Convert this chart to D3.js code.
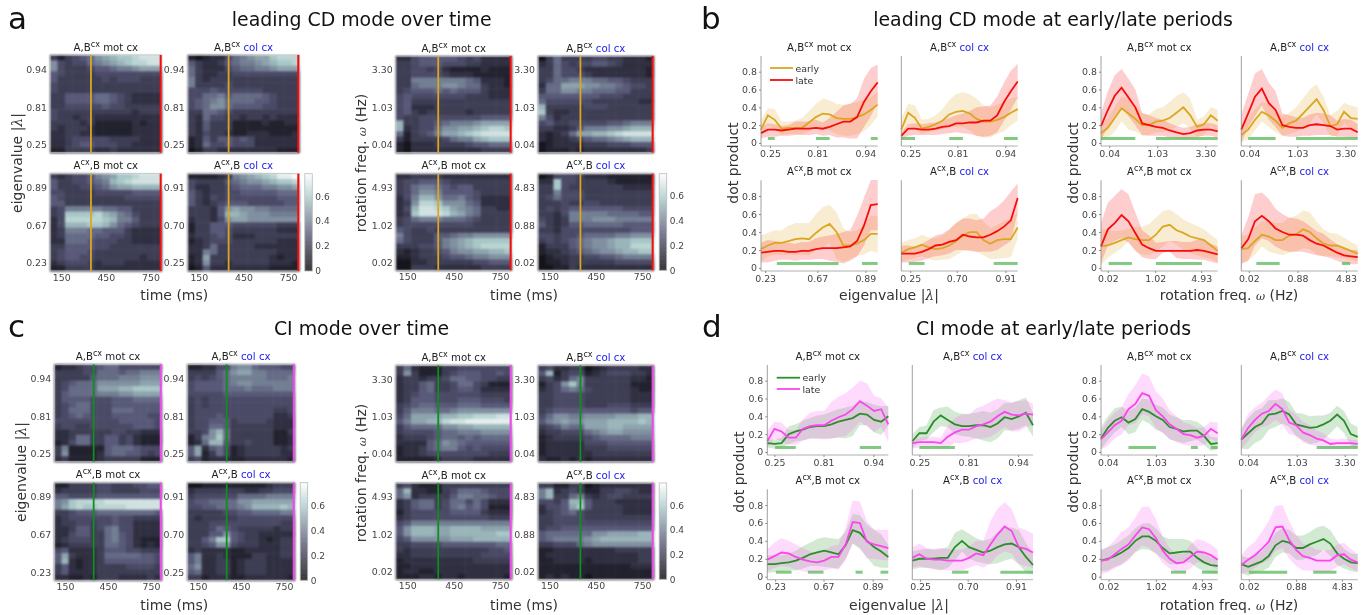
<!DOCTYPE html>
<html>
<head>
<meta charset="utf-8">
<title>CD and CI modes</title>
<style>
    body { margin: 0; background: #fff; }
    svg { display: block; font-family: "DejaVu Sans", sans-serif; filter: blur(0.35px); }
</style>
</head>
<body>
<svg id="fig" width="1364" height="615">
    <defs>
        <filter id="soft" color-interpolation-filters="sRGB"><feGaussianBlur stdDeviation="0.85"/></filter>
    </defs>
</svg>

<script src="https://d3js.org/d3.v7.min.js"></script>
<script type="text/javascript">

// heatmaps: 18 rows (top row first), 15 time bins, one hex digit per cell
const heatA1 = ["31345689abbcddd","843446789abccdd","843334556778999","543333444444444","533333343444333","433333333333333","433333333333333","335555665432222","335555665432222","334444454433333","433333333332333","433233222222222","333323111112122","323332111112222","223322111112222","223444443333222","223455444332222","113333223222222"];
const heatA2 = ["10122467899bccc","53223567789abbc","632224566778999","632233444444444","732333333333333","733334333333333","444544444433333","446675666654333","456786666554333","456886555544333","336654333333333","326443323323222","325333111121122","325333111111111","324332112221112","125355454222222","126445444222222","013322222222111"];
const heatA3 = ["323445789bbcddd","53344567abcdddd","53334456899aaaa","443333444445555","543333333344444","553333333333333","347777766553333","34bbbbca9764333","24cccccba775333","24aaabba8654333","237776655532222","236666554432222","226665444332222","335555443333333","345554333333333","345544333333233","234443233322222","113333222222222"];
const heatA4 = ["111123789abceef","43333567889abbc","422334566677889","532334455555666","532434444444555","532345554444455","333258988776666","33325aa98887777","233248998888888","133555444444333","133554333333222","233454222333333","123444333333222","223633333222222","227633333333222","129333333332122","128332333332221","015222222221111"];
const heatA5 = ["224555554342222","334555444332222","334434211112111","334444322211111","337777777652221","336777887663221","345556565553222","454444444333222","453333333333333","452223333333333","453233333233333","433444444445555","a33445677789999","a234468899abccb","61345799abcdddd","31333346779abbb","102223333455666","102222222223333"];
const heatA6 = ["036333344332221","236434455432222","336443222222221","336444322222221","346677766554333","266999887765443","366887766655333","555555554443333","644444433333322","a33333444333333","b32233333333333","742333333333333","453344444556777","332235777889aaa","2123699aabcdddd","212234566789aaa","012222333444555","011121222222223"];
const heatA7 = ["223333222222222","344555433333333","346776545533333","346887555543333","247aa8667542222","238ccb888652222","24addcb98763322","23bdddca9763333","346777666543333","344444444433333","543343333333333","743335567788888","643335789abbbbb","333445789abcccc","212334578899aab","112333455677888","002233333344555","003332222223333"];
const heatA8 = ["014443222111111","22b443333211111","33b433333332222","337444333333333","346444333333333","333433443333333","343455555554444","332477777666655","432377788877777","532355666665555","332444444444555","443445666677888","3434567889aabbb","1333567889aaccc","12234567889aabb","012233445567777","011233333344444","001132222222222"];
const heatC1 = ["122344566444444","333344666566777","333335666777888","345666888888999","346666999aabbbb","356666777889999","355554445556666","345664445555555","346664446665555","345654445555544","444444444555554","344334444445554","223333334433222","223663355342111","124663355342111","371111156665444","381111256655434","231111233333111"];
const heatC2 = ["112244788655544","333356899776666","343456777776667","455556788777777","455556667666777","444445555555555","343444444444444","343444444444444","344444444444334","344454444444223","344555344443222","344665333333222","3348a6333333113","1378b6333333112","126aa5334333112","592564123333323","591364123333322","341222112222221"];
const heatC3 = ["113333443334455","233333443333444","554444555555555","78bccccdddddddd","79bcbbccccddddd","334555666666665","234444445443333","233443445442222","223553467442222","224553367542222","234443367542111","123333366542121","452222355544333","593222366666554","5a2122355555554","352122333344443","352222333333333","221121333222232"];
const heatC4 = ["001111111112333","233333332233444","344444466667777","455666688999999","445566678aaaaba","333334455666677","323333344444444","333444444444433","333465433333233","333558543322222","3357bb543321233","334588433322233","232222112222233","572232111332233","572233123332222","682233123332222","562233123332222","331222112222221"];
const heatC5 = ["362111334444444","383111345554454","233233466554433","233563346643111","233563345542222","234554444443333","235554445554443","345665556665555","357776678888888","469999aabbcccdd","5799aacddeeeeee","3566668899aaaaa","344445667778888","233345665656666","222256876555555","122356775454444","122344444444333","111112333322222"];
const heatC6 = ["342233012333322","5a1344123444332","342367333333221","1348b7333333111","234676433333211","334444333333222","334444333333222","334444333444333","345555555555455","4688778888999aa","578988999aaaaba","345766999aa9999","233444678998888","123333456666777","122222444555555","122222333444444","122222233333333","211212122222222"];
const heatC7 = ["342111333333333","6a2211346665444","682333357766544","235663466464222","235663467564111","134444455553222","234444444444333","457777777777777","58aaa99aaaa9999","58aaa99aaaaaabb","4588888999aaaaa","334444555555566","323333333333445","223333333334444","122222222233333","112222222222222","122112222222222","111221221222221"];
const heatC8 = ["331133012222222","7a2343113344322","7a3367323443333","4435aa533322222","24459b533332222","234564333332222","334444333333333","334444444444444","344555555555555","5666666889999aa","56777789aaaaaaa","334446788888888","112222222233333","122222222222233","112222122222233","111111111111222","111111111111111","121211011111111"];

// line panels: [early, early lo, early hi, late, late lo, late hi], 18 bins, value * 100
const lineB1 = [[15,31,26,16,17,17,17,23,29,33,32,28,27,27,29,32,37,43],[6,20,15,9,10,10,10,13,18,16,14,10,8,8,10,13,20,30],[26,39,38,24,24,25,28,36,44,50,48,44,43,44,46,48,52,57],[11,15,15,14,15,16,16,16,17,16,18,21,24,24,29,46,58,68],[5,7,7,8,8,9,9,9,10,8,9,6,6,5,5,18,30,45],[18,22,21,19,20,24,24,24,26,23,28,35,42,44,50,72,84,88]];
const lineB2 = [[15,34,28,16,18,21,25,32,35,36,33,27,24,24,26,29,34,38],[4,20,15,10,12,14,15,18,18,18,14,8,6,6,10,13,20,25],[28,44,42,26,27,31,38,48,55,57,55,50,42,40,43,46,50,52],[8,16,16,15,15,16,18,19,22,22,23,23,25,25,31,46,58,69],[3,8,9,9,9,9,10,11,12,11,10,8,7,8,12,25,37,51],[12,21,22,21,22,23,25,28,31,33,36,40,41,42,52,68,81,89]];
const lineB3 = [[21,25,28,28,30,32,33,32,39,45,49,40,25,25,27,31,38,38],[7,13,15,14,15,14,15,14,20,23,28,10,7,10,13,15,19,17],[36,39,42,42,47,50,50,50,60,68,70,62,44,40,42,48,58,58],[17,18,19,19,18,18,19,19,21,22,22,22,23,24,30,47,70,71],[6,6,8,9,9,8,9,9,10,10,8,7,5,8,13,25,42,42],[28,31,30,29,28,27,29,29,33,35,36,38,40,42,58,78,98,98]];
const lineB4 = [[17,21,23,26,23,21,22,25,30,36,40,40,31,27,31,32,32,45],[7,9,11,13,10,8,9,10,14,19,20,18,14,10,10,11,12,33],[28,31,33,37,34,33,36,42,50,55,60,60,52,44,48,52,55,62],[16,16,16,18,21,25,26,29,31,37,35,34,34,37,41,46,53,78],[6,6,7,8,11,13,14,16,20,20,19,18,18,18,20,25,30,62],[25,25,24,27,31,36,38,43,50,55,55,53,55,63,68,75,85,94]];
const lineB5 = [[11,17,28,39,33,27,20,20,24,25,28,34,40,31,18,21,31,25],[3,6,13,24,15,13,8,9,12,12,14,18,22,16,6,9,20,13],[20,28,40,52,50,42,33,32,38,40,46,53,57,50,26,30,40,37],[19,37,53,62,51,40,22,20,18,17,14,12,10,11,14,15,15,13],[3,18,30,40,30,20,9,8,8,8,6,5,4,5,7,8,8,6],[34,58,76,83,72,60,34,31,28,26,22,19,17,18,21,22,22,20]];
const lineB6 = [[9,15,26,35,31,25,17,22,25,33,41,49,37,19,21,35,28,27],[1,4,14,24,18,12,8,10,13,16,22,32,22,7,8,22,16,14],[20,27,38,46,44,38,30,34,40,50,60,66,52,31,36,45,42,40],[15,33,52,61,45,37,20,18,17,17,20,21,20,19,15,16,16,12],[0,18,30,42,26,18,8,7,7,8,8,9,9,9,7,7,6,5],[32,55,78,83,68,58,33,31,29,28,32,34,33,31,25,27,26,21]];
const lineB7 = [[24,25,28,31,34,32,31,31,37,46,48,42,39,35,33,31,25,19],[3,11,17,22,30,18,15,14,18,24,30,26,20,17,14,12,10,6],[44,42,41,42,43,46,46,49,56,63,65,60,54,50,47,43,37,31],[24,43,50,59,52,39,26,22,19,19,19,19,19,19,20,19,17,15],[5,25,30,33,28,20,12,10,10,17,18,11,10,10,9,9,7,5],[50,73,80,88,82,62,42,36,28,29,30,30,29,29,31,31,27,24]];
const lineB8 = [[21,22,30,37,35,31,31,36,37,43,40,33,27,25,25,22,19,16],[6,8,15,24,18,16,14,17,19,22,21,15,13,13,12,11,9,7],[36,36,45,52,52,50,50,56,58,64,62,52,43,39,38,34,29,25],[22,32,52,58,52,44,40,37,37,36,31,27,25,21,17,14,13,12],[4,8,25,33,30,24,20,18,18,18,16,14,13,11,8,5,4,4],[37,56,82,84,77,66,60,56,55,52,47,41,38,32,26,22,20,20]];
const lineD1 = [[10,9,10,20,23,25,28,29,29,31,34,36,38,43,42,36,34,40],[5,4,5,9,12,13,15,15,15,15,16,15,18,30,30,22,19,30],[14,14,16,29,31,35,38,41,42,45,48,50,52,57,56,53,51,52],[12,26,23,16,16,26,29,30,30,35,39,42,48,57,52,46,48,31],[5,15,12,8,8,13,15,15,14,15,17,18,25,34,29,22,28,11],[24,34,33,25,24,37,44,46,46,56,62,66,72,80,77,63,60,50]];
const lineD2 = [[12,21,21,34,41,36,31,29,29,30,30,28,32,39,37,40,44,30],[4,12,14,22,29,28,20,18,17,15,13,11,15,24,24,26,30,17],[20,28,30,47,50,51,45,43,43,44,46,44,48,55,55,58,61,44],[10,11,11,11,10,17,22,25,25,29,31,34,40,45,42,41,43,42],[4,5,5,5,4,5,10,10,12,15,15,17,22,28,23,23,28,30],[14,16,17,17,16,30,38,42,42,49,52,56,60,58,56,57,58,54]];
const lineD3 = [[14,14,15,16,18,21,25,27,29,27,25,35,52,49,40,33,28,22],[4,5,6,7,7,9,12,12,11,10,9,20,37,31,22,12,10,10],[24,24,24,26,29,34,38,42,44,43,42,50,70,69,58,52,47,35],[19,23,27,26,22,19,17,16,18,22,22,36,61,60,39,36,34,32],[6,10,12,11,8,6,5,5,7,9,8,18,37,33,20,20,19,18],[31,38,43,40,36,32,28,26,29,34,36,55,85,84,62,53,52,52]];
const lineD4 = [[18,20,20,20,21,21,33,40,33,30,27,29,33,36,37,33,22,13],[8,10,10,9,7,10,18,28,20,17,15,14,15,18,20,14,5,2],[28,30,31,30,31,33,49,53,48,43,40,42,50,55,55,52,38,25],[21,25,20,19,19,18,18,18,21,26,24,36,47,56,51,33,31,27],[10,12,10,8,8,7,7,7,10,13,10,15,24,28,26,14,12,10],[33,37,32,31,32,31,30,30,34,40,40,62,76,83,76,55,52,48]];
const lineD5 = [[15,27,35,39,33,37,48,45,40,36,28,26,23,24,24,18,9,10],[3,13,22,28,20,22,36,32,25,22,14,12,10,12,14,8,1,3],[28,40,49,51,46,50,60,59,53,50,42,39,36,36,34,28,17,16],[14,22,30,35,48,54,66,63,47,40,31,26,20,19,16,18,26,21],[3,7,15,20,30,32,42,40,27,21,15,11,8,7,6,8,15,10],[24,36,44,50,65,75,88,85,68,60,47,40,33,31,27,28,34,33]];
const lineD6 = [[14,21,28,32,42,43,46,42,31,29,27,28,31,35,42,35,20,17],[4,3,10,14,25,28,32,28,18,13,9,10,14,21,29,21,7,4],[26,38,46,49,58,58,60,56,44,43,40,41,41,44,52,46,32,28],[14,27,36,43,46,54,48,33,30,22,19,15,13,9,10,10,10,9],[3,12,22,28,30,36,30,20,18,11,8,7,4,3,4,4,5,5],[26,43,50,55,63,70,66,47,42,34,30,24,21,15,14,15,14,13]];
const lineD7 = [[18,20,23,27,32,40,45,45,40,32,26,27,28,28,21,16,13,12],[6,7,11,14,20,27,31,30,26,20,14,14,16,16,10,6,4,3],[29,33,36,41,46,54,59,60,54,45,42,42,42,40,32,26,22,20],[18,19,25,31,36,46,55,53,43,29,20,15,16,22,28,27,24,19],[3,5,9,13,18,28,35,32,26,15,9,5,5,9,16,15,12,8],[31,33,41,50,55,66,78,78,64,45,32,25,26,36,42,40,36,30]];
const lineD8 = [[14,11,14,17,23,35,40,38,32,32,36,39,42,37,26,20,16,15],[4,1,4,6,10,22,27,26,19,19,22,24,30,23,13,9,6,5],[23,21,24,28,38,49,54,52,46,46,50,55,57,52,40,31,26,25],[13,19,24,31,39,55,56,41,30,23,21,18,18,18,24,25,19,16],[3,5,10,15,18,29,32,20,12,7,7,5,5,6,11,14,9,6],[24,33,39,50,62,79,80,62,47,37,34,30,29,30,36,38,31,25]];

// significance bars, [from bin, to bin]
const barsB = [[[1,2],[8,10],[16,17]],[[0,2],[7,9],[15,17]],[[2.3,11.3],[14.7,17]],[[1.1,3.4],[13.5,17]],[[0,5],[8,17]],[[1,5],[8,17]],[[1.1,4.5],[8,14.7]],[[2.2,5.6],[14.7,15.9]]];
const barsD = [[[1.1,4],[13,16]],[[1,6]],[[1.2,3.4],[5.7,7.9],[12.4,13.4],[15.9,17]],[[5.6,7.9],[12.4,17]],[[4,8],[13.1,14.1],[16,17]],[[11,17]],[[10.2,12.4],[14.7,17]],[[1.1,6.7],[10.5,13.9]]];

// tick labels
const lamTop = ["0.94", "0.81", "0.25"];
const lamBotMot = ["0.89", "0.67", "0.23"];
const lamBotCol = ["0.91", "0.70", "0.25"];
const omTop = ["3.30", "1.03", "0.04"];
const omBotMot = ["4.93", "1.02", "0.02"];
const omBotCol = ["4.83", "0.88", "0.02"];
const timeTicks = [150, 450, 750];
const dotTicks = [0, 0.2, 0.4, 0.6, 0.8];
const cbarTicks = [0, 0.2, 0.4, 0.6];
const earlyTime = 350, lateTime = 818;

const svg = d3.select("#fig");
const TXT = "#444";

const bone = d3.scaleLinear()
    .domain([0, 0.29, 0.58, 0.78])
    .range(["#000000", "#545474", "#a7c7c7", "#ffffff"]);

// hex digit to value
const cellValue = c => 0.07 + parseInt(c, 16) / 20 * 0.93;

function addTitle(g, cx, y, bottom, region) {
    const t = g.append("text").attr("x", cx).attr("y", y)
        .attr("text-anchor", "middle").attr("font-size", 10.2).attr("fill", "#222");
    t.append("tspan").text(bottom ? "A" : "A,B");
    t.append("tspan").attr("dy", -4).attr("font-size", 8).text("cx");
    t.append("tspan").attr("dy", 4).text(bottom ? ",B " : " ");
    t.append("tspan").attr("fill", region == "col cx" ? "#2222ee" : "#222").text(region);
}

function styleAxis(g, size) {
    g.selectAll("text").attr("fill", TXT).attr("font-size", size).attr("font-family", "DejaVu Sans");
    g.select(".domain").remove();
}

function heatPanel(rows, xr, yr, labels, region, bottom, earlyCol, lateCol) {
    const g = svg.append("g");
    const x = d3.scaleBand().domain(d3.range(15)).range(xr);
    const y = d3.scaleBand().domain(d3.range(18)).range(yr);
    const t = d3.scaleLinear().domain([75, 825]).range(xr);
    const yPos = d3.scaleLinear().domain([0, 18]).range(yr);

    const cells = g.append("g").attr("filter", "url(#soft)");
    rows.forEach((row, r) => {
        cells.selectAll(null)
            .data(row.split("").map(cellValue))
            .join("rect")
            .attr("x", (d, i) => x(i))
            .attr("y", y(r))
            .attr("width", x.bandwidth() + 0.5)
            .attr("height", y.bandwidth() + 0.5)
            .attr("fill", d => bone(d));
    });

    g.append("rect")
        .attr("x", xr[0]).attr("y", yr[0])
        .attr("width", xr[1] - xr[0]).attr("height", yr[1] - yr[0])
        .attr("fill", "none").attr("stroke", "#bbb").attr("stroke-width", 0.8);

    g.append("line").attr("x1", t(earlyTime)).attr("x2", t(earlyTime))
        .attr("y1", yr[0]).attr("y2", yr[1]).attr("stroke", earlyCol).attr("stroke-width", 1.8);
    g.append("line").attr("x1", t(lateTime)).attr("x2", t(lateTime))
        .attr("y1", yr[0]).attr("y2", yr[1]).attr("stroke", lateCol).attr("stroke-width", 2);

    g.append("g").attr("transform", `translate(${xr[0]},0)`)
        .call(d3.axisLeft(yPos).tickValues([2.6, 9.6, 16.5]).tickSize(0).tickPadding(3)
            .tickFormat((d, i) => labels[i]))
        .call(a => styleAxis(a, 9.4));
    if (bottom) {
        g.append("g").attr("transform", `translate(0,${yr[1]})`)
            .call(d3.axisBottom(t).tickValues(timeTicks).tickSize(0).tickPadding(3))
            .call(a => styleAxis(a, 9.4));
    }
    addTitle(g, (xr[0] + xr[1]) / 2, yr[0] - 4.5, bottom, region);
}

function colorbar(x0, yr) {
    const g = svg.append("g");
    const y = d3.scaleLinear().domain([0, 0.78]).range([yr[1], yr[0]]);
    g.selectAll(null).data(d3.range(0, 0.78, 0.005)).join("rect")
        .attr("x", x0).attr("width", 7.5)
        .attr("y", d => y(d + 0.005)).attr("height", (yr[1] - yr[0]) / 150)
        .attr("fill", d => bone(d));
    g.append("rect").attr("x", x0).attr("y", yr[0]).attr("width", 7.5).attr("height", yr[1] - yr[0])
        .attr("fill", "none").attr("stroke", "#bbb").attr("stroke-width", 0.8);
    g.append("g").attr("transform", `translate(${x0 + 7.5},0)`)
        .call(d3.axisRight(y).tickValues(cbarTicks).tickSize(0).tickPadding(3)
            .tickFormat(d => d === 0 ? "0" : d))
        .call(a => styleAxis(a, 9));
}

function heatBlock(panels, xs, ys, labelSets, earlyCol, lateCol) {
    const regions = ["mot cx", "col cx"];
    panels.forEach((rows, i) => {
        const c = i % 2, r = i >> 1;
        heatPanel(rows, xs[c], ys[r], labelSets[i], regions[c], r == 1, earlyCol, lateCol);
    });
    colorbar(xs[1][1] + 5.5, ys[1]);
}

function linePanel(d, bars, xr, yr, labels, tickBins, region, bottom, showY, colA, colB) {
    const g = svg.append("g");
    const x = d3.scaleLinear().domain([0, 17]).range(xr);
    const y = d3.scaleLinear().domain([-0.034, 0.976]).range(yr);
    const line = d3.line().x((v, i) => x(i)).y(v => y(v / 100));
    const band = (lo, hi) => d3.area().x((v, i) => x(i)).y0((v, i) => y(lo[i] / 100)).y1(v => y(v / 100))(hi);

    g.append("path").attr("d", band(d[1], d[2])).attr("fill", colA).attr("fill-opacity", 0.2);
    g.append("path").attr("d", band(d[4], d[5])).attr("fill", colB).attr("fill-opacity", 0.2);
    g.selectAll(null).data(bars).join("line")
        .attr("x1", b => x(b[0])).attr("x2", b => x(b[1]))
        .attr("y1", y(0.05)).attr("y2", y(0.05))
        .attr("stroke", "#62bd62").attr("stroke-opacity", 0.8).attr("stroke-width", 3);
    g.append("path").attr("d", line(d[0])).attr("fill", "none").attr("stroke", colA).attr("stroke-width", 1.8);
    g.append("path").attr("d", line(d[3])).attr("fill", "none").attr("stroke", colB).attr("stroke-width", 1.8);

    // x tick labels run low to high, the reverse of the heatmap y labels
    g.append("g").attr("transform", `translate(0,${yr[0]})`)
        .call(d3.axisBottom(x).tickValues(tickBins).tickSize(2).tickPadding(2).tickFormat((v, i) => labels[2 - i]))
        .call(a => { styleAxis(a, 9.4); a.selectAll("line").attr("stroke", "#888"); });
    g.append("line").attr("x1", xr[0]).attr("x2", xr[1]).attr("y1", yr[0]).attr("y2", yr[0])
        .attr("stroke", "#999").attr("stroke-width", 0.8);
    g.append("line").attr("x1", xr[0]).attr("x2", xr[0]).attr("y1", yr[0]).attr("y2", yr[1])
        .attr("stroke", "#888").attr("stroke-width", 0.8);
    if (showY) {
        g.append("g").attr("transform", `translate(${xr[0]},0)`)
            .call(d3.axisLeft(y).tickValues(dotTicks).tickSize(2).tickPadding(2)
                .tickFormat(v => v === 0 ? "0" : v))
            .call(a => { styleAxis(a, 9.4); a.selectAll("line").attr("stroke", "#888"); });
    }
    addTitle(g, (xr[0] + xr[1]) / 2, yr[1] - 5, bottom, region);
}

function lineBlock(panels, bars, xs, ys, labelSets, bins, colA, colB) {
    const regions = ["mot cx", "col cx"];
    panels.forEach((d, i) => {
        const c = i % 2, r = i >> 1;
        linePanel(d, bars[i], xs[c], ys[r], labelSets[i], bins[i], regions[c], r == 1, c == 0, colA, colB);
    });
}

function legend(x0, x1, y1, y2, colA, colB) {
    [["early", colA, y1], ["late", colB, y2]].forEach(e => {
        svg.append("line").attr("x1", x0).attr("x2", x1).attr("y1", e[2]).attr("y2", e[2])
            .attr("stroke", e[1]).attr("stroke-width", 1.8);
        svg.append("text").attr("x", x1 + 2.5).attr("y", e[2] + 3.5).attr("font-size", 9.4)
            .attr("fill", "#333").text(e[0]);
    });
}

function label(x, y, str, size, rot, fill) {
    const t = svg.append("text").attr("font-size", size).attr("fill", fill || "#333")
        .attr("text-anchor", "middle")
        .attr("transform", `translate(${x},${y})` + (rot ? " rotate(-90)" : ""));
    if (str == "lam") {
        t.append("tspan").text("eigenvalue |");
        t.append("tspan").attr("font-family", "DejaVu Serif").attr("font-style", "italic").text("λ");
        t.append("tspan").text("|");
    } else if (str == "om") {
        t.append("tspan").text("rotation freq. ");
        t.append("tspan").attr("font-family", "DejaVu Serif").attr("font-style", "italic").attr("font-size", size * 0.8).text("ω");
        t.append("tspan").text(" (Hz)");
    } else {
        t.text(str);
    }
}

const lamSets = [lamTop, lamTop, lamBotMot, lamBotCol];
const omSets = [omTop, omTop, omBotMot, omBotCol];
const GOLD = "#dca621", RED = "#f80b0b", GREEN = "#0f8f1f", MAG = "#f145ee", LGREEN = "#2a8f2a", LMAG = "#fb45f0";

heatBlock([heatA1, heatA2, heatA3, heatA4], [[50, 161.7], [187.7, 299.3]], [[55, 152.7], [173.7, 271]], lamSets, GOLD, RED);
heatBlock([heatA5, heatA6, heatA7, heatA8], [[395.7, 511.7], [538, 653.7]], [[56, 152.7], [173.7, 270.3]], omSets, GOLD, RED);
heatBlock([heatC1, heatC2, heatC3, heatC4], [[54.3, 161.7], [187.3, 294.7]], [[364.3, 461.7], [482.7, 580.3]], lamSets, GREEN, MAG);
heatBlock([heatC5, heatC6, heatC7, heatC8], [[395.7, 511.7], [538, 653.7]], [[365.3, 461.7], [483, 579.3]], omSets, GREEN, MAG);

const ysB = [[146, 56], [271, 180.3]], ysD = [[455, 365], [579.7, 489.3]];
lineBlock([lineB1, lineB2, lineB3, lineB4], barsB.slice(0, 4), [[761, 877.7], [901.3, 1017.7]], ysB, lamSets,
    [[1.3, 8.2, 15.2], [1.3, 8.2, 15.2], [0.6, 8.2, 15.2], [1.3, 8.1, 15.2]], GOLD, RED);
lineBlock([lineB5, lineB6, lineB7, lineB8], barsB.slice(4), [[1101, 1217.7], [1241.3, 1357.7]], ysB, omSets,
    [[1.2, 8.2, 15.2], [1.2, 8.2, 15.2], [1, 7.9, 14.6], [1.1, 8.2, 15.3]], GOLD, RED);
lineBlock([lineD1, lineD2, lineD3, lineD4], barsD.slice(0, 4), [[767.3, 888.3], [912.3, 1033]], ysD, lamSets,
    [[1, 7.9, 14.9], [1, 7.9, 14.9], [1.1, 7.9, 14.8], [1.1, 7.8, 14.6]], LGREEN, LMAG);
lineBlock([lineD5, lineD6, lineD7, lineD8], barsD.slice(4), [[1101, 1217.7], [1241.3, 1357.7]], ysD, omSets,
    [[1, 8, 15], [1, 8.1, 15.1], [1.1, 8, 14.7], [1.1, 8, 14.7]], LGREEN, LMAG);

legend(770, 793, 68, 80, GOLD, RED);
legend(776.7, 800, 377.7, 389, LGREEN, LMAG);

// axis labels
label(22, 163, "lam", 14, true);
label(366, 163, "om", 14, true);
label(174.3, 300, "time (ms)", 14);
label(524, 300, "time (ms)", 14);
label(737.5, 163, "dot product", 14, true);
label(1077.5, 163, "dot product", 14, true);
label(889, 300, "lam", 14);
label(1229, 300, "om", 14);
label(26, 472, "lam", 14, true);
label(366, 473, "om", 14, true);
label(174.3, 610, "time (ms)", 14);
label(524, 610, "time (ms)", 14);
label(744, 472, "dot product", 14, true);
label(1077.5, 472, "dot product", 14, true);
label(899, 610, "lam", 14);
label(1229, 610, "om", 14);

// panel titles
label(361.7, 26, "leading CD mode over time", 18.9, false, "#111");
label(1053, 26, "leading CD mode at early/late periods", 18.9, false, "#111");
label(361.5, 335, "CI mode over time", 18.9, false, "#111");
label(1053.5, 335, "CI mode at early/late periods", 18.9, false, "#111");

[["a", 8, 29], ["b", 701, 29], ["c", 8, 337], ["d", 702, 337]].forEach(p => {
    svg.append("text").attr("x", p[1]).attr("y", p[2]).attr("font-size", 31).attr("fill", "#111").text(p[0]);
});

</script>
</body>
</html>
